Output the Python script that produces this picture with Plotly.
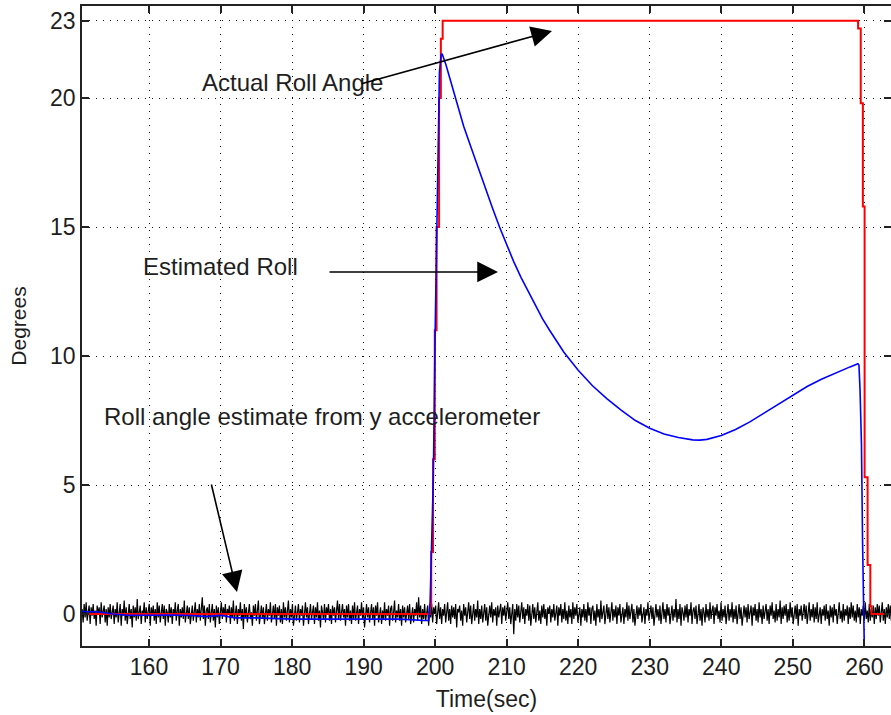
import plotly.graph_objects as go

# ---- data -------------------------------------------------------------
# Actual roll angle (deg), stepped command profile: value holds from each time
actual_t = [150.6, 199.25, 199.45, 199.70, 199.95, 200.20, 200.55, 200.80, 201.05,
            259.13, 259.50, 259.80, 260.04, 260.46, 260.84, 261.00, 263.8]
actual_v = [0.0, 0.3, 2.4, 6.0, 11.0, 15.0, 20.0, 22.3, 23.0,
            22.7, 19.8, 15.8, 5.3, 1.9, 0.3, 0.0, 0.0]

# Estimated roll (deg)
est_t = [150.6, 153.0, 155.0, 157.0, 160.0, 163.0, 166.0, 168.0, 170.0, 172.0,
         175.0, 178.0, 180.0, 185.0, 190.0, 195.0, 198.5, 199.1,
         199.3, 199.5, 199.75, 200.0, 200.2, 200.4, 200.6, 200.85, 201.0,
         201.5, 202.1, 203.0, 204.0, 205.0, 206.0, 207.0, 208.0, 209.0,
         210.0, 211.0, 212.0, 213.0, 214.0, 215.0, 216.0, 217.0, 218.0,
         219.0, 220.0, 222.0, 224.0, 226.0, 228.0, 230.0, 232.0, 234.0,
         236.0, 237.0, 238.0, 240.0, 242.0, 244.0, 246.0, 248.0, 250.0,
         252.0, 254.0, 256.0, 258.0, 259.1, 259.25, 259.4, 259.6, 259.75,
         259.9, 260.1]
est_v = [0.10, 0.08, 0.0, -0.05, -0.05, -0.04, -0.06, -0.10, -0.05, -0.15,
         -0.15, -0.18, -0.20, -0.20, -0.20, -0.20, -0.25, -0.25,
         0.5, 3.0, 5.3, 10.9, 14.5, 18.0, 21.0, 21.7, 21.7,
         21.3, 20.7, 19.8, 18.9, 18.1, 17.3, 16.5, 15.75, 15.0,
         14.3, 13.65, 13.05, 12.5, 11.95, 11.45, 11.0, 10.55, 10.15,
         9.8, 9.45, 8.85, 8.35, 7.9, 7.5, 7.2, 6.98, 6.84,
         6.75, 6.74, 6.77, 6.92, 7.15, 7.45, 7.8, 8.15, 8.5,
         8.82, 9.1, 9.35, 9.58, 9.70, 9.65, 8.7, 6.6, 2.9,
         -1.5, -3.0]

# Roll angle from the y accelerometer, in units of 0.065 deg,
# sampled every 0.14 s from 150.65 s
accel_t0 = 150.65
accel_dt = 0.14
accel_unit = 0.065
accel_units = [
    3, -5, 6, -2, 7, -4, 1, 5, -6, 4, -1, 6, -3, 2, -7, 5, 0, 4,
    -6, 7, -2, 1, 5, -5, 3, -7, 4, -2, 6, -3, 0, 5, -6, 3, -2, 7,
    -5, 2, 6, -7, 3, -1, 8, -4, 4, -6, 1, 6, -3, 3, -8, 5, -2, 4,
    -4, 9, -3, 2, 5, -6, 2, 0, 7, -5, 4, -3, 1, 6, -7, 4, -1, 5,
    -4, 3, -6, 7, -2, 5, -5, 0, 6, -3, 5, -7, 3, 1, -5, 6, -2, 4,
    -6, 3, -1, 7, -4, 2, 6, -7, 3, -2, 4, -3, 8, -5, 1, 5, -3, 4,
    -6, 2, 5, -4, 1, 7, -5, 3, -2, 6, -4, 2, 10, -3, 5, -7, 2, 4,
    -3, 6, -5, 1, 6, -4, 3, -8, 5, -2, 4, -6, 2, 7, -3, 4, -1, 6,
    -5, 3, 0, 5, -6, 4, -2, 8, -4, 1, 5, -6, 3, -1, 7, -4, 3, -9,
    6, -2, 4, -5, 2, 6, -3, 1, -7, 5, -1, 6, -4, 3, 8, -6, 0, 5,
    -3, 4, -6, 2, 6, -4, 3, -1, 7, -5, 2, 5, -3, 6, -7, 4, -1, 5,
    -5, 3, -6, 7, -2, 4, -4, 1, 8, -5, 3, -2, 6, -7, 2, 5, -4, 1,
    6, -5, 3, -1, 5, -7, 3, 7, -2, 4, -6, 2, 6, -3, 1, 5, -6, 4,
    -2, 7, -4, 2, -8, 5, 1, -3, 6, -5, 4, 0, 6, -4, 3, -6, 5, -1,
    4, -5, 2, 8, -3, 6, -4, 1, 6, -2, 3, -7, 5, -2, 6, -4, 2, -6,
    5, -3, 7, -4, 1, 5, -6, 3, -1, 7, -3, 4, -8, 3, 6, -2, 4, -5,
    2, 6, -3, 4, -7, 5, -1, 7, -5, 2, 4, -6, 2, -3, 7, -4, 3, -1,
    5, -7, 3, 5, -4, 1, 8, -5, 2, -2, 6, -4, 3, -7, 5, -2, 4, -5,
    1, 5, -3, 6, -6, 2, 4, -5, 3, -1, 7, -4, 10, -2, 5, -6, 3, -3,
    6, -4, 1, 5, -7, 3, -2, 6, -5, 4, 0, 5, -6, 2, 7, -3, 4, -6,
    3, -1, 6, -5, 2, 7, -4, 3, -6, 5, -2, 4, -3, 6, -8, 3, 1, 5,
    -4, 2, -7, 6, -1, 4, -5, 2, 7, -3, 5, -6, 1, 6, -4, 3, -2, 8,
    -6, 3, -3, 5, -5, 1, 6, -4, 4, -7, 2, 5, -2, 7, -5, 3, -1, 4,
    -7, 5, -2, 3, 6, -6, 4, -1, 5, -4, 2, 7, -3, 4, -6, 1, 6, -12,
    3, -4, 6, -2, 5, -5, 2, 7, -3, 4, -6, 3, -1, 6, -4, 5, -7, 2,
    6, -3, 4, -5, 1, 7, -4, 2, -6, 5, -2, 6, -3, 3, -7, 4, 0, 5,
    -5, 3, -2, 6, -4, 2, 5, -7, 4, -1, 6, -5, 3, -3, 7, -4, 2, -6,
    5, -2, 3, -6, 7, -3, 4, -1, 6, -5, 2, 4, -7, 3, -2, 6, -4, 3,
    -5, 7, -1, 4, -6, 3, 5, -4, 2, -7, 6, -2, 3, -5, 8, -3, 1, 5,
    -6, 2, 6, -3, 4, -5, 1, 7, -4, 3, -2, 5, -6, 4, -1, 6, -5, 2,
    4, -6, 3, -2, 7, -4, 5, -3, 1, 6, -5, 3, -7, 2, 5, -3, 4, -1,
    6, -5, 2, 4, -6, 3, -1, 7, -4, 2, 5, -3, 4, -7, 1, 6, -2, 3,
    -4, 5, -6, 2, 7, -3, 3, -5, 6, -1, 4, -6, 2, 5, -4, 3, -2, 9,
    -5, 3, -3, 6, -7, 4, 1, -4, 5, -2, 6, -5, 3, -1, 7, -6, 2, 4,
    -3, 5, -6, 2, 6, -4, 3, -7, 4, 1, -5, 6, -2, 3, -4, 7, -3, 2,
    5, -6, 4, -1, 6, -3, 2, -5, 7, -4, 3, -2, 5, -6, 1, 6, -4, 3,
    -2, 7, -5, 3, -3, 5, -6, 2, 6, -3, 4, -7, 1, 5, -2, 4, -5, 6,
    -3, 2, 5, -7, 4, -1, 6, -4, 3, -5, 7, -2, 3, -6, 5, -3, 1, 6,
    -4, 3, -6, 5, -1, 7, -3, 2, -5, 6, -4, 3, -2, 8, -6, 4, -3, 5,
    -1, 6, -5, 3, -4, 7, -2, 4, -6, 2, 5, -3, 6, -7, 3, -1, 5, -4,
    2, 6, -3, 5, -6, 1, 7, -4, 3, -2, 6, -5, 4, -3, 7, -5, 2, 4,
    -6, 3, -1, 5, -4, 6, -3, 2, -7, 5, -2, 4, -5, 6, -1, 3, -6, 4,
    7, -3, 2, -5, 6, -4, 3, -1, 5, -6, 4, -3, 7, -2, 5, -4, 2, -5,
    6, -2, 4, -6, 3, -1, 5, -4, 7, -3, 2, -5, 6, -4, 3, -2, 5, -6,
    4, -3, 6, -1, 5, -5, 2, 7, -4, 3, -6, 4, -2, 6, -3, 5, -4, 2,
]

x_ticks = [160, 170, 180, 190, 200, 210, 220, 230, 240, 250, 260]
y_ticks = [0, 5, 10, 15, 20, 23]

accel_t = [accel_t0 + i * accel_dt for i in range(len(accel_units))]
accel_v = [u * accel_unit for u in accel_units]

FONT = "Liberation Sans, Arial, sans-serif"
INK = "#1e1e1e"

fig = go.Figure()
fig.add_trace(go.Scatter(x=accel_t, y=accel_v, mode="lines",
                         line=dict(color="black", width=1.2), showlegend=False))
fig.add_trace(go.Scatter(x=actual_t, y=actual_v, mode="lines", line_shape="hv",
                         line=dict(color="#ff0000", width=2), showlegend=False))
fig.add_trace(go.Scatter(x=est_t, y=est_v, mode="lines",
                         line=dict(color="#0000ff", width=1.6), showlegend=False))
# invisible trace carrying the right-hand tick marks
fig.add_trace(go.Scatter(x=[None], y=[None], yaxis="y2", showlegend=False))

grid_dash = "1px,6px"
fig.update_layout(
    width=891, height=715,
    margin=dict(l=82, r=0, t=6, b=69),
    paper_bgcolor="white", plot_bgcolor="white",
    font=dict(family=FONT, size=23, color=INK),
    xaxis=dict(range=[150.63, 263.73], tickvals=x_ticks, ticks="inside", ticklen=7,
               tickwidth=1.5, tickcolor="#222", showline=True, linecolor="#222",
               linewidth=1.5, mirror="ticks", showgrid=True, gridcolor="#111",
               gridwidth=1.2, griddash=grid_dash, zeroline=False,
               title=dict(text="Time(sec)", standoff=12, font=dict(size=23))),
    yaxis=dict(range=[-1.24, 23.57], tickvals=y_ticks, ticks="inside", ticklen=7,
               tickwidth=1.5, tickcolor="#222", showline=True, linecolor="#222",
               linewidth=1.5, mirror=False, showgrid=True, gridcolor="#111",
               gridwidth=1.2, griddash=grid_dash, zeroline=False,
               title=dict(text="Degrees", standoff=18, font=dict(size=21))),
    yaxis2=dict(overlaying="y", side="right", matches="y", tickvals=y_ticks,
                ticks="inside", ticklen=7, tickwidth=1.5, tickcolor="#222",
                showticklabels=False, showline=False, showgrid=False, zeroline=False),
)

# text labels
labels = [
    ("Actual Roll Angle", 167.13, 20.62),
    ("Estimated Roll", 158.88, 13.49),
    ("Roll angle estimate from y accelerometer", 153.43, 7.64),
]
for txt, tx, ty in labels:
    fig.add_annotation(x=tx, y=ty, xref="x", yref="y", text=txt, showarrow=False,
                       xanchor="left", yanchor="middle",
                       font=dict(family=FONT, size=24, color=INK))

# arrows: (tail_t, tail_v) -> (head_t, head_v)
arrows = [
    (189.5, 20.54, 216.34, 22.6),
    (185.02, 13.26, 208.79, 13.26),
    (168.67, 5.08, 172.30, 0.85),
]
for t0, v0, t1, v1 in arrows:
    fig.add_annotation(x=t1, y=v1, ax=t0, ay=v0, xref="x", yref="y",
                       axref="x", ayref="y", text="", showarrow=True,
                       arrowhead=2, arrowsize=2.6, arrowwidth=1.6,
                       arrowcolor="black", standoff=0, startstandoff=0)

fig.write_html("out.html")
